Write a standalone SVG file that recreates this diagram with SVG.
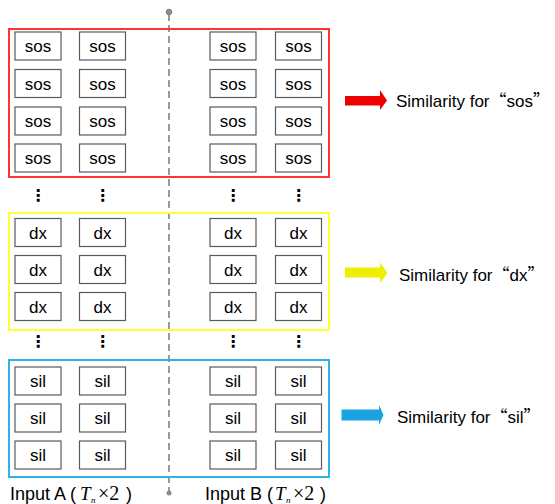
<svg xmlns="http://www.w3.org/2000/svg" width="555" height="504" viewBox="0 0 555 504">
<style>
.n rect{fill:#fff;stroke:#5a5a5a;stroke-width:1.2}
.n text{font-family:"Liberation Sans",Arial,sans-serif;font-size:17px;fill:#000;text-anchor:middle}
.g{fill:none;stroke-width:2}
.lbl{font-family:"Liberation Sans",Arial,sans-serif;font-size:17px;fill:#000}
.inp{font-family:"Liberation Sans",Arial,sans-serif;font-size:18px;fill:#000}
.q{font-family:"Noto Sans CJK SC",sans-serif}
.dots{font-family:"DejaVu Sans",sans-serif;font-size:16px;font-weight:bold;fill:#000;text-anchor:middle}
</style>
<rect width="555" height="504" fill="#fff"/>

<g id="connectors">
<line x1="169" y1="14" x2="169" y2="491" stroke="#7a7a7a" stroke-width="1.5" stroke-dasharray="7 4"/>
<circle cx="169" cy="12" r="2.8" fill="#8c8c8c" stroke="#6f6f6f" stroke-width="0.8"/>
<circle cx="169" cy="493" r="2.5" fill="#8c8c8c"/>
</g>

<g id="group-sos"><rect class="g" x="9" y="29" width="320" height="148" stroke="#ff3333"/></g>
<g id="group-dx"><rect class="g" x="9" y="213" width="320" height="117" stroke="#ffff33"/></g>
<g id="group-sil"><rect class="g" x="9" y="360" width="320" height="117" stroke="#2db3e8"/></g>

<g id="nodes-sos" class="n">
<g id="sos-1-1"><rect x="15" y="32" width="46" height="28"/><text x="38" y="52">sos</text></g>
<g id="sos-1-2"><rect x="79.5" y="32" width="46" height="28"/><text x="102.5" y="52">sos</text></g>
<g id="sos-1-3"><rect x="210" y="32" width="46" height="28"/><text x="233" y="52">sos</text></g>
<g id="sos-1-4"><rect x="275.5" y="32" width="46" height="28"/><text x="298.5" y="52">sos</text></g>
<g id="sos-2-1"><rect x="15" y="69.5" width="46" height="28"/><text x="38" y="89.5">sos</text></g>
<g id="sos-2-2"><rect x="79.5" y="69.5" width="46" height="28"/><text x="102.5" y="89.5">sos</text></g>
<g id="sos-2-3"><rect x="210" y="69.5" width="46" height="28"/><text x="233" y="89.5">sos</text></g>
<g id="sos-2-4"><rect x="275.5" y="69.5" width="46" height="28"/><text x="298.5" y="89.5">sos</text></g>
<g id="sos-3-1"><rect x="15" y="107" width="46" height="28"/><text x="38" y="127">sos</text></g>
<g id="sos-3-2"><rect x="79.5" y="107" width="46" height="28"/><text x="102.5" y="127">sos</text></g>
<g id="sos-3-3"><rect x="210" y="107" width="46" height="28"/><text x="233" y="127">sos</text></g>
<g id="sos-3-4"><rect x="275.5" y="107" width="46" height="28"/><text x="298.5" y="127">sos</text></g>
<g id="sos-4-1"><rect x="15" y="144" width="46" height="28"/><text x="38" y="164">sos</text></g>
<g id="sos-4-2"><rect x="79.5" y="144" width="46" height="28"/><text x="102.5" y="164">sos</text></g>
<g id="sos-4-3"><rect x="210" y="144" width="46" height="28"/><text x="233" y="164">sos</text></g>
<g id="sos-4-4"><rect x="275.5" y="144" width="46" height="28"/><text x="298.5" y="164">sos</text></g>
</g>

<g id="nodes-dx" class="n">
<g id="dx-1-1"><rect x="15" y="218.5" width="46" height="28"/><text x="38" y="238.5">dx</text></g>
<g id="dx-1-2"><rect x="79.5" y="218.5" width="46" height="28"/><text x="102.5" y="238.5">dx</text></g>
<g id="dx-1-3"><rect x="210" y="218.5" width="46" height="28"/><text x="233" y="238.5">dx</text></g>
<g id="dx-1-4"><rect x="275.5" y="218.5" width="46" height="28"/><text x="298.5" y="238.5">dx</text></g>
<g id="dx-2-1"><rect x="15" y="255.5" width="46" height="28"/><text x="38" y="275.5">dx</text></g>
<g id="dx-2-2"><rect x="79.5" y="255.5" width="46" height="28"/><text x="102.5" y="275.5">dx</text></g>
<g id="dx-2-3"><rect x="210" y="255.5" width="46" height="28"/><text x="233" y="275.5">dx</text></g>
<g id="dx-2-4"><rect x="275.5" y="255.5" width="46" height="28"/><text x="298.5" y="275.5">dx</text></g>
<g id="dx-3-1"><rect x="15" y="292.5" width="46" height="28"/><text x="38" y="312.5">dx</text></g>
<g id="dx-3-2"><rect x="79.5" y="292.5" width="46" height="28"/><text x="102.5" y="312.5">dx</text></g>
<g id="dx-3-3"><rect x="210" y="292.5" width="46" height="28"/><text x="233" y="312.5">dx</text></g>
<g id="dx-3-4"><rect x="275.5" y="292.5" width="46" height="28"/><text x="298.5" y="312.5">dx</text></g>
</g>

<g id="nodes-sil" class="n">
<g id="sil-1-1"><rect x="15" y="367" width="46" height="28"/><text x="38" y="387">sil</text></g>
<g id="sil-1-2"><rect x="79.5" y="367" width="46" height="28"/><text x="102.5" y="387">sil</text></g>
<g id="sil-1-3"><rect x="210" y="367" width="46" height="28"/><text x="233" y="387">sil</text></g>
<g id="sil-1-4"><rect x="275.5" y="367" width="46" height="28"/><text x="298.5" y="387">sil</text></g>
<g id="sil-2-1"><rect x="15" y="404" width="46" height="28"/><text x="38" y="424">sil</text></g>
<g id="sil-2-2"><rect x="79.5" y="404" width="46" height="28"/><text x="102.5" y="424">sil</text></g>
<g id="sil-2-3"><rect x="210" y="404" width="46" height="28"/><text x="233" y="424">sil</text></g>
<g id="sil-2-4"><rect x="275.5" y="404" width="46" height="28"/><text x="298.5" y="424">sil</text></g>
<g id="sil-3-1"><rect x="15" y="441" width="46" height="28"/><text x="38" y="461">sil</text></g>
<g id="sil-3-2"><rect x="79.5" y="441" width="46" height="28"/><text x="102.5" y="461">sil</text></g>
<g id="sil-3-3"><rect x="210" y="441" width="46" height="28"/><text x="233" y="461">sil</text></g>
<g id="sil-3-4"><rect x="275.5" y="441" width="46" height="28"/><text x="298.5" y="461">sil</text></g>
</g>

<g id="ellipses">
<text class="dots" x="38" y="201">⋮</text>
<text class="dots" x="102.5" y="201">⋮</text>
<text class="dots" x="233" y="201">⋮</text>
<text class="dots" x="298.5" y="201">⋮</text>
<text class="dots" x="38" y="347">⋮</text>
<text class="dots" x="102.5" y="347">⋮</text>
<text class="dots" x="233" y="347">⋮</text>
<text class="dots" x="298.5" y="347">⋮</text>
</g>

<g id="out-sos">
<path d="M345 96 H380 V90 L387 100.5 L380 110 V105.5 H345 Z" fill="#ee0000"/>
<text class="lbl" x="396" y="106.5">Similarity for<tspan class="q">“</tspan>sos<tspan class="q">”</tspan></text>
</g>
<g id="out-dx">
<path d="M345 267.5 H380 V262.5 L387.5 273 L380 283 V277.5 H345 Z" fill="#eeee00"/>
<text class="lbl" x="399" y="280.5">Similarity for<tspan class="q">“</tspan>dx<tspan class="q">”</tspan></text>
</g>
<g id="out-sil">
<path d="M341.5 409.5 H379 V405 L383.5 415 L379 425 V420.5 H341.5 Z" fill="#1aa3e0"/>
<text class="lbl" x="397" y="422.5">Similarity for<tspan class="q">“</tspan>sil<tspan class="q">”</tspan></text>
</g>

<g id="input-labels" class="inp">
<text x="10" y="500">Input A (</text>
<text x="80" y="500" font-family="Liberation Serif,serif" font-style="italic" font-size="19">T</text>
<text x="91" y="502.5" font-family="Liberation Serif,serif" font-style="italic" font-size="9">n</text>
<text x="98" y="500" font-family="Liberation Serif,serif" font-size="20">×2</text>
<text x="126" y="500">)</text>
<text x="205" y="500">Input B (</text>
<text x="275" y="500" font-family="Liberation Serif,serif" font-style="italic" font-size="19">T</text>
<text x="286" y="502.5" font-family="Liberation Serif,serif" font-style="italic" font-size="9">n</text>
<text x="293" y="500" font-family="Liberation Serif,serif" font-size="20">×2</text>
<text x="320" y="500">)</text>
</g>
</svg>
